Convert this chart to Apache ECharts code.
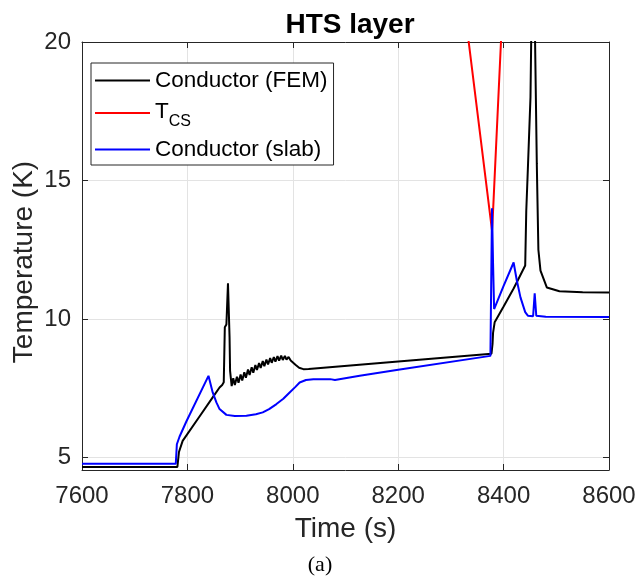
<!DOCTYPE html>
<html>
<head>
<meta charset="utf-8">
<script src="https://cdn.jsdelivr.net/npm/echarts@6/dist/echarts.min.js"></script>
<style>
  html, body { margin: 0; padding: 0; background: #fff; }
  #chart { width: 639px; height: 576px; }
</style>
</head>
<body>
<div id="chart"></div>
<script>
// axis ticks
const xTicks = [7600, 7800, 8000, 8200, 8400, 8600];
const yTicks = [5, 10, 15, 20];

// Conductor (FEM) - black
const femTime = [7600, 7781, 7784, 7791, 7823, 7848, 7861, 7866, 7869, 7871, 7874, 7877, 7880, 7881, 7884,
  7887, 7890, 7894, 7897, 7901, 7904, 7908, 7911, 7915, 7918, 7922, 7925, 7929, 7932, 7936, 7939,
  7943, 7946, 7950, 7953, 7957, 7960, 7964, 7967, 7971, 7974, 7978, 7981, 7985, 7988, 7992, 7996,
  8005, 8012, 8020, 8030, 8200, 8377, 8379, 8380, 8383, 8386, 8400, 8419, 8427, 8441, 8443, 8446,
  8451, 8455, 8459, 8463, 8466, 8470, 8482, 8506, 8550, 8600];
const femTemp = [4.66, 4.66, 5.2, 5.6, 6.48, 7.17, 7.53, 7.62, 7.72, 9.7, 9.8, 11.29, 9.34, 8.13, 7.58,
  7.86, 7.62, 7.92, 7.70, 8.00, 7.78, 8.08, 7.88, 8.18, 7.98, 8.26, 8.06, 8.34, 8.16, 8.41, 8.23,
  8.48, 8.30, 8.54, 8.36, 8.59, 8.42, 8.63, 8.46, 8.66, 8.50, 8.68, 8.52, 8.67, 8.53, 8.63, 8.50,
  8.35, 8.24, 8.19, 8.20, 8.47, 8.75, 9.1, 9.5, 9.88, 9.98, 10.45, 11.1, 11.4, 11.93, 13.9, 15.4,
  18.0, 24.0, 21.0, 15.6, 12.5, 11.75, 11.14, 11.0, 10.97, 10.96];

// T_CS - red
const tcsTime = [8300, 8378, 8379, 8381, 8395, 8405];
const tcsTemp = [25.2, 13.2, 13.5, 14.3, 20.0, 24.0];

// Conductor (slab) - blue
const slabTime = [7600, 7778, 7780, 7785, 7798, 7840, 7848, 7855, 7861, 7874, 7890, 7912, 7930, 7943,
  7955, 7969, 7982, 7994, 8005, 8013, 8025, 8039, 8071, 8080, 8127, 8200, 8375, 8378, 8380, 8382,
  8400, 8419, 8425, 8432, 8441, 8446, 8456, 8459, 8462, 8480, 8600];
const slabTemp = [4.78, 4.78, 5.48, 5.75, 6.3, 7.95, 7.35, 6.99, 6.75, 6.54, 6.5, 6.51, 6.56, 6.63,
  6.75, 6.93, 7.12, 7.35, 7.55, 7.71, 7.8, 7.83, 7.83, 7.8, 7.95, 8.17, 8.67, 14.0, 12.0, 10.36,
  11.2, 12.04, 11.4, 10.78, 10.25, 10.12, 10.1, 10.93, 10.12, 10.08, 10.07];

function pairs(t, v) {
  return t.map(function (x, i) { return [x, v[i]]; });
}

const font = "'Liberation Sans', Arial, Helvetica, sans-serif";
const axisColor = '#262626';
const gridColor = '#e3e3e3';

const chart = echarts.init(document.getElementById('chart'), null, { renderer: 'canvas' });

var option = {
  animation: false,
  backgroundColor: '#ffffff',
  title: {
    text: 'HTS layer',
    left: 345,
    top: 6,
    textAlign: 'center',
    textStyle: { fontSize: 28, fontWeight: 'bold', color: '#000', fontFamily: font }
  },
  legend: {
    orient: 'vertical',
    left: 91,
    top: 63,
    data: ['Conductor (FEM)', 'TCS', 'Conductor (slab)'],
    icon: 'rect',
    itemWidth: 55,
    itemHeight: 2,
    itemGap: 7.5,
    padding: [5, 6, 3, 4],
    backgroundColor: '#fff',
    borderColor: axisColor,
    borderWidth: 1,
    borderRadius: 0,
    formatter: function (name) {
      return name === 'TCS' ? '{t|T}{s|CS}' : name;
    },
    textStyle: {
      fontSize: 22.5,
      lineHeight: 25,
      color: '#000',
      fontFamily: font,
      rich: {
        t: { fontSize: 22.5, lineHeight: 25, verticalAlign: 'top', fontFamily: font, color: '#000' },
        s: { fontSize: 16, lineHeight: 16, padding: [13, 0, 0, 0], verticalAlign: 'top', fontFamily: font, color: '#000' }
      }
    }
  },
  grid: {
    left: 82,
    right: 30,
    top: 42,
    bottom: 106,
    containLabel: false,
    outerBoundsMode: 'none'
  },
  xAxis: [
    {
      type: 'value',
      position: 'bottom',
      min: xTicks[0],
      max: xTicks[xTicks.length - 1],
      interval: 200,
      name: 'Time (s)',
      nameLocation: 'middle',
      nameGap: 45,
      nameTextStyle: { fontSize: 28, color: axisColor, fontFamily: font },
      axisLine: { show: true, onZero: false, lineStyle: { color: axisColor, width: 1 } },
      axisTick: { show: true, inside: true, length: 6, lineStyle: { color: axisColor } },
      axisLabel: {
        fontSize: 24, color: axisColor, margin: 14, fontFamily: font,
        formatter: function (v) { return String(v); }
      },
      splitLine: { show: true, lineStyle: { color: gridColor, width: 1 } }
    },
    {
      type: 'value',
      position: 'top',
      min: xTicks[0],
      max: xTicks[xTicks.length - 1],
      interval: 200,
      axisLine: { show: true, onZero: false, lineStyle: { color: axisColor, width: 1 } },
      axisTick: { show: true, inside: true, length: 6, lineStyle: { color: axisColor } },
      axisLabel: { show: false },
      splitLine: { show: false }
    }
  ],
  yAxis: [
    {
      type: 'value',
      position: 'left',
      min: 4.55,
      max: 20,
      name: 'Temperature (K)',
      nameLocation: 'middle',
      nameGap: 44,
      nameMoveOverlap: false,
      nameTextStyle: { fontSize: 28, color: axisColor, fontFamily: font, padding: [0, 12, 0, 0] },
      axisLine: { show: true, onZero: false, lineStyle: { color: axisColor, width: 1 } },
      axisTick: { show: true, inside: true, length: 6, customValues: yTicks, lineStyle: { color: axisColor } },
      axisLabel: { fontSize: 24, color: axisColor, margin: 11, customValues: yTicks, fontFamily: font },
      splitLine: { show: true, lineStyle: { color: gridColor, width: 1 } }
    },
    {
      type: 'value',
      position: 'right',
      min: 4.55,
      max: 20,
      axisLine: { show: true, onZero: false, lineStyle: { color: axisColor, width: 1 } },
      axisTick: { show: true, inside: true, length: 6, customValues: yTicks, lineStyle: { color: axisColor } },
      axisLabel: { show: false },
      splitLine: { show: false }
    }
  ],
  series: [
    {
      name: 'Conductor (FEM)',
      type: 'line',
      data: pairs(femTime, femTemp),
      showSymbol: false,
      symbol: 'none',
      clip: true,
      color: '#000000',
      lineStyle: { color: '#000000', width: 2 }
    },
    {
      name: 'TCS',
      type: 'line',
      data: pairs(tcsTime, tcsTemp),
      showSymbol: false,
      symbol: 'none',
      clip: true,
      color: '#ff0000',
      lineStyle: { color: '#ff0000', width: 2 }
    },
    {
      name: 'Conductor (slab)',
      type: 'line',
      data: pairs(slabTime, slabTemp),
      showSymbol: false,
      symbol: 'none',
      clip: true,
      color: '#0000ff',
      lineStyle: { color: '#0000ff', width: 2 }
    }
  ],
  graphic: [
    {
      type: 'text',
      x: 320,
      y: 565,
      style: {
        text: '(a)',
        textAlign: 'center',
        textVerticalAlign: 'middle',
        font: "22px 'Liberation Serif', 'Times New Roman', serif",
        fill: '#000'
      }
    }
  ]
};

chart.setOption(option);
</script>
</body>
</html>
